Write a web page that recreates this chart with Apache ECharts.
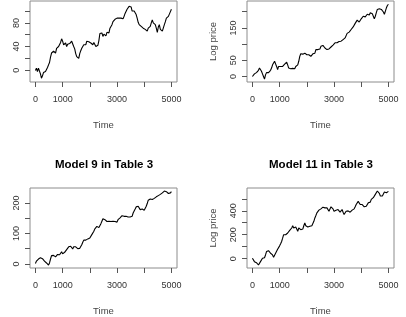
<!DOCTYPE html>
<html>
<head>
<meta charset="utf-8">
<script src="https://cdn.jsdelivr.net/npm/echarts@6/dist/echarts.min.js"></script>
<style>
html,body{margin:0;padding:0;background:#fff;}
#chart{width:406px;height:317px;}
</style>
</head>
<body>
<div id="chart"></div>
<script>
// sampling step of the read-off series (time units)
const STEP = 37;
const xTicks = [0, 1000, 2000, 3000, 4000, 5000];
const xLabels = [0, 1000, 3000, 5000];

const titles = ['', '', 'Model 9 in Table 3', 'Model 11 in Table 3'];
const yNames = ['', 'Log price', '', 'Log price'];
const xName = 'Time';

const p1Ticks = [0, 20, 40, 60, 80, 100];
const p1Labels = [0, 40, 80];
const p2Ticks = [0, 50, 100, 150, 200];
const p2Labels = [0, 50, 150];
const p3Ticks = [0, 50, 100, 150, 200];
const p3Labels = [0, 100, 200];
const p4Ticks = [0, 100, 200, 300, 400, 500];
const p4Labels = [0, 200, 400];

const p1Values = [-0.6,3.4,-2.3,3.4,0.6,-6.2,-13.6,-9.6,-4,-6.2,-2.3,0.6,4.5,9,13,22,29,26,32,35,
29,37,35,40,37,47,53,49,43,40,46,40,44,41,45,43,49,47,40,36,
28,23,26,20,28,33,37,40,43,46,43,49,46,48,49,46,48,43,47,44,
40,37,42,50,62,61,63,57,61,63,58,64,66,63,71,74,77,82,80,86,
83,88,91,88,86,88,91,87,91,96,99,103,105,108,111,107,100,103,100,97,
94,88,81,77,80,74,77,71,74,69,71,66,71,69,74,80,85,80,83,77,
71,64,73,77,69,71,66,69,77,82,88,86,91,94,99,103];

const p2Values = [0,2,8,5,12,10,19,26,21,16,8,0,-8,5,12,8,12,10,19,26,
36,41,47,39,31,21,31,33,31,35,31,36,38,41,44,36,26,21,24,21,
25,26,24,31,35,36,47,62,70,72,69,67,72,69,67,65,67,64,62,65,
70,67,72,83,88,83,78,85,93,98,96,93,88,90,83,83,85,88,91,93,
97,95,104,106,104,107,108,106,109,106,114,116,119,124,133,131,137,140,145,150,
153,157,164,168,174,176,168,174,178,181,186,188,184,188,192,195,190,197,192,194,
186,178,186,197,207,209,209,212,207,205,199,192,202,212,219,223];

const p3Values = [1,9,12,16,14,20,22,17,14,9,5,3,0,-4,3,16,27,31,28,25,
23,28,31,33,30,36,40,33,36,38,40,47,49,56,51,58,54,49,56,60,
56,54,50,50,51,56,63,71,78,80,78,80,82,82,85,91,96,102,107,115,
118,123,121,119,123,132,140,148,151,145,143,139,137,140,137,139,137,140,137,139,
141,137,145,148,151,154,158,162,156,153,156,151,154,151,154,148,156,167,173,180,
187,184,189,184,178,180,180,178,176,178,189,198,209,211,213,209,211,213,215,216,
220,222,224,227,228,231,233,238,239,235,237,235,231,228,233,237];

const p4Values = [3,-11,-25,-25,-34,-39,-53,-45,-25,-11,3,11,8,31,59,73,67,51,45,59,
31,11,22,45,59,79,87,107,124,143,171,200,214,200,208,214,219,236,242,256,
275,256,242,264,247,228,256,270,242,228,247,275,298,275,284,264,275,270,264,275,
284,312,340,360,382,396,405,410,416,424,430,416,424,410,424,416,396,410,433,438,
416,396,410,405,393,410,405,388,396,410,388,368,382,396,388,399,393,388,396,405,
396,416,433,452,466,478,466,452,438,452,444,433,424,438,452,466,481,472,495,489,
509,523,537,551,565,556,545,523,509,523,537,556,545,551,565,562];

const yRanges = [[-20, 117], [-17, 233], [-13.5, 249], [-78, 590]];
const xRange = [-199, 5200];

const panels = [
  {vals: p1Values, ticks: p1Ticks, labels: p1Labels},
  {vals: p2Values, ticks: p2Ticks, labels: p2Labels},
  {vals: p3Values, ticks: p3Ticks, labels: p3Labels},
  {vals: p4Values, ticks: p4Ticks, labels: p4Labels}
];

const grids = [
  {left: 30, top: 1, width: 147, height: 81},
  {left: 247, top: 1, width: 147, height: 81},
  {left: 30, top: 188, width: 147, height: 80},
  {left: 247, top: 188, width: 147, height: 80}
];

const FONT = '"Liberation Sans", Arial, Helvetica, sans-serif';
const fmt = v => String(v);

const option = {
  animation: false,
  backgroundColor: '#fff',
  title: [],
  grid: grids.map(g => Object.assign({show: true, borderColor: '#8c8c8c', borderWidth: 1, containLabel: false}, g)),
  xAxis: [],
  yAxis: [],
  series: []
};

panels.forEach((p, i) => {
  option.xAxis.push({
    type: 'value', gridIndex: i, min: xRange[0], max: xRange[1], position: 'bottom',
    axisLine: {show: false, onZero: false},
    splitLine: {show: false},
    axisTick: {show: true, inside: false, length: 5, lineStyle: {color: '#555', width: 1}, customValues: xTicks},
    axisLabel: {show: true, margin: 13, fontSize: 9, color: '#333', fontFamily: FONT, customValues: xLabels, formatter: fmt},
    name: xName, nameLocation: 'middle', nameGap: 38,
    nameTextStyle: {fontSize: 9.5, color: '#444', fontFamily: FONT}
  });
  option.yAxis.push({
    type: 'value', gridIndex: i, min: yRanges[i][0], max: yRanges[i][1], position: 'left',
    axisLine: {show: false, onZero: false},
    splitLine: {show: false},
    axisTick: {show: true, inside: false, length: 5, lineStyle: {color: '#555', width: 1}, customValues: p.ticks},
    axisLabel: {show: true, rotate: 90, margin: 9, fontSize: 9, color: '#333', fontFamily: FONT, customValues: p.labels, formatter: fmt},
    name: yNames[i], nameLocation: 'middle', nameGap: 29,
    nameTextStyle: {fontSize: 9.5, color: '#444', fontFamily: FONT}
  });
  option.series.push({
    type: 'line', xAxisIndex: i, yAxisIndex: i,
    data: p.vals.map((v, k) => [k * STEP, v]),
    showSymbol: false, symbol: 'none',
    lineStyle: {color: '#000', width: 1.1},
    silent: true
  });
  if (titles[i]) {
    const g = grids[i];
    option.title.push({
      text: titles[i], left: g.left + g.width / 2 + 0.5, top: 159, padding: 0,
      textAlign: 'center', textVerticalAlign: 'top',
      textStyle: {fontSize: 11.5, fontWeight: 'bold', color: '#000', fontFamily: FONT}
    });
  }
});

const chart = echarts.init(document.getElementById('chart'), null, {renderer: 'canvas'});
chart.setOption(option);
</script>
</body>
</html>
